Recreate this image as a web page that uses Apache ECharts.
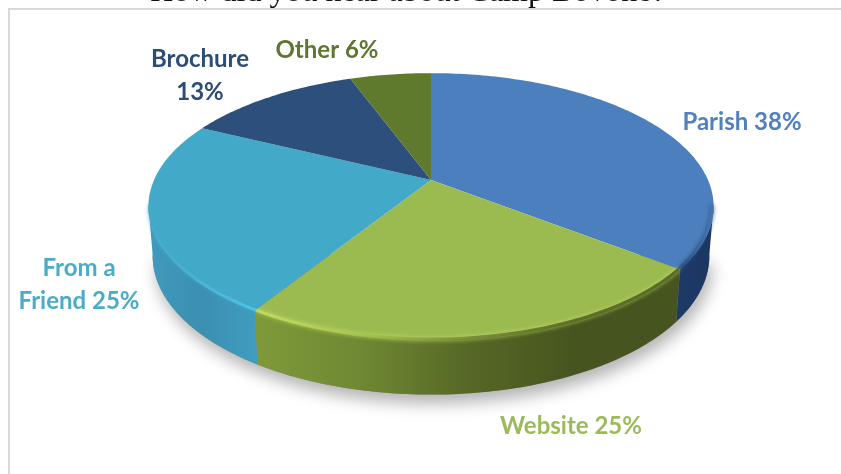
<!DOCTYPE html>
<html>
<head>
<meta charset="utf-8">
<style>html,body{margin:0;padding:0;background:#fff}</style>
<script src="https://cdn.jsdelivr.net/npm/echarts@6/dist/echarts.min.js"></script>
</head>
<body>
<div id="chart" style="width:841px;height:474px"></div>
<script>
// the slices were normalised by the original chart: the labels add up to 107
const categories = ['Parish', 'Website', 'From a\nFriend', 'Brochure\n', 'Other']
const percents = [38, 25, 25, 13, 6]
const titleText = 'How did you hear about Camp Bovone?'

const topColors = ['#4c7fbd', '#9bbb51', '#42a9c8', '#2c4f7c', '#5f7a2c']
const labelColors = ['#4f81bd', '#9bbb59', '#4bacc6', '#2c4d75', '#5f7530']
const labelPos = [[742, 122], [571, 426], [79, 285], [200, 76], [327, 50]]
const wallStops = [
  ['#1d3a68', '#1b3660'],
  ['#7f9a3a', '#6f8833', '#566826', '#46551f', '#46551f'],
  ['#3f9bbc', '#3c8fb0', '#3f9dc0'],
  ['#1d3a68', '#1d3a68'],
  ['#46551f', '#46551f']
]
const rimStops = [
  ['#24467a', '#4a7cb8'],
  ['#c8e060', '#a4c450', '#6f8833', '#4f6024', '#4a5a22'],
  ['#44a8c8', '#52c8ea'],
  ['#2c4f7c', '#2c4f7c'],
  ['#5f7a2c', '#5f7a2c']
]

// perspective disc
const cx = 431
const cy = 180
const rA = 277
const rB = 128
const k = 0.198
const wallFrom = 101
const wallTo = 259

function project(deg) {
  const t = (deg * Math.PI) / 180
  const u = Math.sin(t)
  const v = -Math.cos(t)
  const w = 1 - k * v
  return [cx + (rA * u) / w, cy + (rB * v) / w, v]
}
function lower(p) {
  return [cx + (p[0] - cx) * 0.985, p[1] + 48 + 7 * p[2]]
}
function arc(from, to) {
  const pts = []
  const n = Math.max(2, Math.ceil(Math.abs(to - from)))
  for (let i = 0; i <= n; i++) pts.push(project(from + ((to - from) * i) / n))
  return pts
}
function xy(pts) {
  return pts.map(p => [p[0], p[1]])
}
function inset(pts) {
  return pts.map(p => [cx + (p[0] - cx) * 0.995, p[1] - 0.5])
}
function grad(stops) {
  return new echarts.graphic.LinearGradient(
    0, 0, 1, 0,
    stops.map((c, i) => ({ offset: i / (stops.length - 1), color: c }))
  )
}

const total = percents.reduce((a, b) => a + b, 0)
const starts = []
percents.reduce((a, b, i) => {
  starts[i] = (a / total) * 360
  return a + b
}, 0)

function renderSlice(params) {
  const i = params.dataIndex
  const from = starts[i]
  const to = from + (percents[i] / total) * 360
  const children = []
  const wFrom = Math.max(from, wallFrom)
  const wTo = Math.min(to, wallTo)
  if (wTo > wFrom) {
    const rim = arc(wFrom, wTo)
    children.push({
      type: 'polygon',
      shape: { points: xy(rim).concat(rim.map(lower).reverse()) },
      style: { fill: grad(wallStops[i]) }
    })
  }
  children.push({
    type: 'polygon',
    shape: { points: [[cx, cy]].concat(xy(arc(from, to))) },
    style: { fill: topColors[i] }
  })
  if (wTo > wFrom) {
    children.push({
      type: 'polyline',
      shape: { points: inset(arc(wFrom, wTo)) },
      style: {
        fill: null,
        stroke: grad(rimStops[i]),
        lineWidth: 3,
        opacity: 0.85,
        shadowBlur: 4,
        shadowColor: rimStops[i][0]
      }
    })
  }
  children.push({
    type: 'text',
    style: {
      x: labelPos[i][0],
      y: labelPos[i][1],
      text: categories[i] + (categories[i].endsWith('\n') ? '' : ' ') + percents[i] + '%',
      fill: labelColors[i],
      font: 'bold 24px Lato, "Open Sans", sans-serif',
      align: 'center',
      verticalAlign: 'middle',
      lineHeight: 33
    }
  })
  return { type: 'group', children }
}

function renderShadow() {
  return {
    type: 'polygon',
    shape: { points: arc(wallFrom, wallTo).map(lower) },
    style: {
      fill: '#8a8a8a',
      shadowBlur: 16,
      shadowColor: 'rgba(0,0,0,0.3)',
      shadowOffsetY: 9,
      shadowOffsetX: 3
    }
  }
}

const chart = echarts.init(document.getElementById('chart'), null, { renderer: 'canvas' })
chart.setOption({
  animation: false,
  graphic: [
    { type: 'rect', z: 0, shape: { x: 9, y: 9, width: 900, height: 600 }, style: { fill: '#fff', stroke: '#d9d9d9', lineWidth: 2 } },
    {
      type: 'text', z: 1,
      style: { x: 408, y: -7, text: titleText, fill: '#111', font: '32px "Liberation Serif", serif', align: 'center', verticalAlign: 'middle' }
    }
  ],
  series: [
    { type: 'custom', coordinateSystem: 'none', z: 2, silent: true, data: [total], renderItem: renderShadow },
    {
      type: 'custom',
      coordinateSystem: 'none',
      z: 3,
      silent: true,
      data: percents.map((p, i) => ({ name: categories[i], value: p })),
      renderItem: renderSlice
    }
  ]
})
</script>
</body>
</html>
